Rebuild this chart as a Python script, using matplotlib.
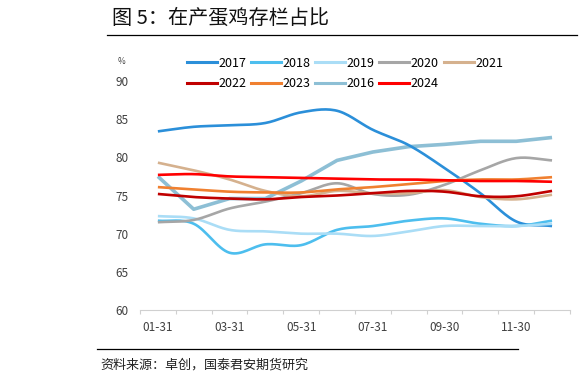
"""
Share of laying hens in production, monthly by year.
"""

import matplotlib
matplotlib.use("Agg")

import matplotlib.pyplot as plt
import numpy as np
from matplotlib.lines import Line2D

plt.rcParams["font.family"] = ["Noto Sans CJK SC", "DejaVu Sans"]

# Data, one value per month end
months = ["01-31", "02-28", "03-31", "04-30", "05-31", "06-30",
          "07-31", "08-31", "09-30", "10-31", "11-30", "12-31"]

y2016 = [77.5, 73.2, 74.6, 74.6, 76.9, 79.6, 80.7, 81.4, 81.7, 82.1, 82.1, 82.6]
y2017 = [83.4, 84.0, 84.2, 84.5, 85.9, 86.1, 83.6, 81.6, 78.6, 75.3, 71.6, 71.0]
y2018 = [71.7, 71.3, 67.5, 68.6, 68.5, 70.5, 71.0, 71.7, 72.0, 71.3, 71.0, 71.7]
y2019 = [72.3, 72.0, 70.5, 70.3, 70.0, 70.0, 69.7, 70.3, 71.0, 71.0, 71.0, 71.3]
y2020 = [71.5, 71.8, 73.3, 74.2, 75.3, 76.6, 75.2, 75.1, 76.4, 78.3, 79.9, 79.6]
y2021 = [79.3, 78.3, 77.1, 75.6, 74.9, 75.6, 75.3, 75.3, 75.7, 74.8, 74.5, 75.1]
y2022 = [75.2, 74.8, 74.6, 74.5, 74.8, 75.0, 75.3, 75.6, 75.5, 74.9, 74.9, 75.6]
y2023 = [76.1, 75.8, 75.5, 75.4, 75.4, 75.8, 76.1, 76.5, 76.9, 77.1, 77.1, 77.4]
y2024 = [77.7, 77.8, 77.5, 77.4, 77.3, 77.2, 77.1, 77.1, 77.0, 76.9, 76.9, 76.8]

yticks = [60, 65, 70, 75, 80, 85, 90]
label_every = 2

# (label, values, colour, linewidth, smoothed)
series = [
    ("2016", y2016, "#8DBFD5", 2.6, False),
    ("2017", y2017, "#2B8FD9", 1.9, True),
    ("2018", y2018, "#4DBEEE", 1.9, True),
    ("2019", y2019, "#AADDF6", 1.9, True),
    ("2020", y2020, "#A6A6A6", 1.9, True),
    ("2021", y2021, "#D5B18E", 1.9, True),
    ("2022", y2022, "#C00000", 1.9, True),
    ("2023", y2023, "#F08030", 1.9, True),
    ("2024", y2024, "#FF0000", 1.9, True),
]
legend_order = ["2017", "2018", "2019", "2020", "2021",
                "2022", "2023", "2016", "2024"]


def smooth(xs, ys, steps=16):
    """Catmull-Rom curve through the points (display smoothing only)."""
    xs = np.asarray(xs, float)
    ys = np.asarray(ys, float)
    px = np.concatenate([[2 * xs[0] - xs[1]], xs, [2 * xs[-1] - xs[-2]]])
    py = np.concatenate([[2 * ys[0] - ys[1]], ys, [2 * ys[-1] - ys[-2]]])
    out_x, out_y = [], []
    t = np.linspace(0, 1, steps, endpoint=False)
    for i in range(1, len(px) - 2):
        for p, out in ((px, out_x), (py, out_y)):
            p0, p1, p2, p3 = p[i - 1], p[i], p[i + 1], p[i + 2]
            out.extend(0.5 * ((2 * p1) + (-p0 + p2) * t
                              + (2 * p0 - 5 * p1 + 4 * p2 - p3) * t ** 2
                              + (-p0 + 3 * p1 - 3 * p2 + p3) * t ** 3))
    out_x.append(xs[-1])
    out_y.append(ys[-1])
    return out_x, out_y


fig = plt.figure(figsize=(5.82, 3.85), dpi=100)
ax = fig.add_axes([0.2405, 0.1948, 0.7388, 0.5948])

x = np.arange(len(months))
handles = {}
for name, vals, color, lw, smoothed in series:
    if smoothed:
        sx, sy = smooth(x, vals)
    else:
        sx, sy = x, vals
    ax.plot(sx, sy, color=color, linewidth=lw, solid_capstyle="butt")
    handles[name] = Line2D([], [], color=color, linewidth=2.2)

ax.set_xlim(-0.5, len(months) - 0.5)
ax.set_ylim(yticks[0], yticks[-1])
ax.set_yticks(yticks)

# labels at month centres, tick marks at month boundaries
ax.set_xticks(x[::label_every])
ax.set_xticklabels(months[::label_every])
ax.set_xticks(np.arange(-0.5, len(months)), minor=True)
ax.tick_params(axis="x", which="major", length=0, pad=8,
               labelsize=8.5, labelcolor="#404040")
ax.tick_params(axis="x", which="minor", length=3, color="#D0D0D0", width=0.8)
ax.tick_params(axis="y", length=0, pad=8, labelsize=8.5, labelcolor="#404040")

for side in ["top", "right", "left"]:
    ax.spines[side].set_visible(False)
ax.spines["bottom"].set_color("#D0D0D0")
ax.spines["bottom"].set_linewidth(0.8)

ax.text(-0.044, 1.083, "%", transform=ax.transAxes, fontsize=6,
        color="#404040", ha="center", va="center")

# legend arranged row by row (matplotlib fills columns first)
ncol = 5
rows = [legend_order[:ncol], legend_order[ncol:]]
col_major = []
for c in range(ncol):
    for r in rows:
        if c < len(r):
            col_major.append(r[c])
fig.legend([handles[n] for n in col_major], col_major, ncol=ncol,
           loc="upper left", bbox_to_anchor=(0.312, 0.866),
           frameon=False, fontsize=9, handlelength=2.4, handletextpad=0.12,
           columnspacing=0.38, labelspacing=0.62, borderaxespad=0)

# title and source
fig.text(0.192, 0.952, "图 5：在产蛋鸡存栏占比", fontsize=14.5, va="center",
         ha="left", color="#111111")
fig.add_artist(Line2D([0.184, 0.992], [0.909, 0.909], color="black",
                      linewidth=0.9, transform=fig.transFigure))
fig.add_artist(Line2D([0.167, 0.89], [0.094, 0.094], color="black",
                      linewidth=0.9, transform=fig.transFigure))
fig.text(0.172, 0.052, "资料来源：卓创，国泰君安期货研究", fontsize=9.4,
         va="center", ha="left", color="#222222")

fig.savefig("out.png", dpi=100)
plt.close(fig)
